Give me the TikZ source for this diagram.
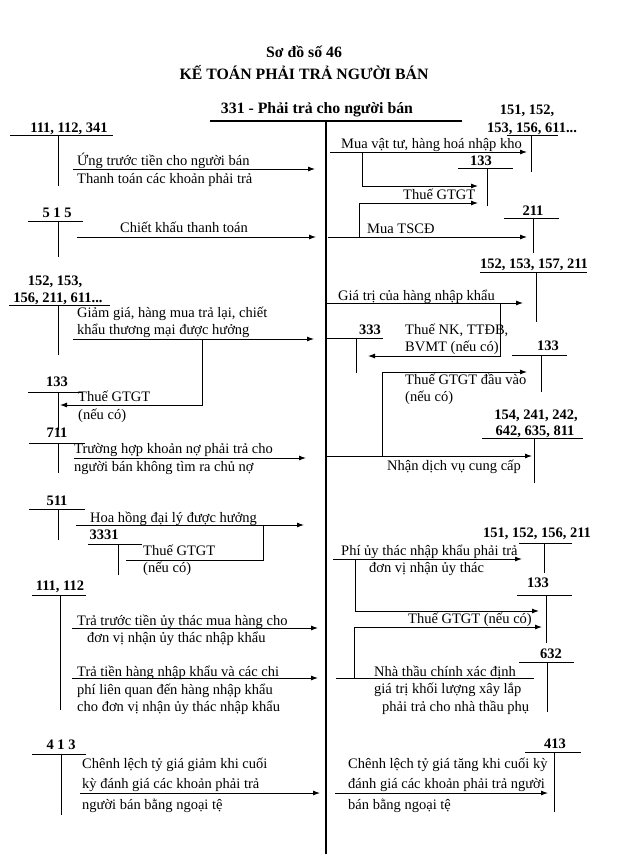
\documentclass[tikz,border=0pt]{standalone}
\usepackage{fontspec}
\setmainfont{Liberation Serif}
\usetikzlibrary{arrows.meta}
\newcommand\Tacc[6]{%
  \coordinate (#1L) at (#2,#4); \coordinate (#1R) at (#3,#4);
  \coordinate (#1T) at (#5,#4); \coordinate (#1B) at (#5,#6);
  \draw[tline] (#1L) -- (#1R); \draw[tline] (#1T) -- (#1B);}
\begin{document}
\begin{tikzpicture}[x=1pt,y=-1pt,
  tline/.style={line width=0.9pt},
  mainline/.style={line width=1.6pt},
  arr/.style={line width=0.9pt,-{Latex[length=7pt,width=5pt]}},
  plain/.style={line width=0.9pt},
  lab/.style={font=\fontsize{14.5}{17}\selectfont\bfseries, anchor=base, inner sep=0pt},
  txt/.style={font=\fontsize{14.5}{17}\selectfont, anchor=base west, inner sep=0pt},
  ttl/.style={font=\fontsize{15.8}{18}\selectfont\bfseries, anchor=base, inner sep=0pt}]
\useasboundingbox[fill=white] (0,0) rectangle (623,862);

% title
\node[ttl] (t1) at (304,57) {Sơ đồ số 46};
\node[ttl] (t2) at (304,79) {KẾ TOÁN PHẢI TRẢ NGƯỜI BÁN};
\node[ttl] (t3) at (317,113) {331 - Phải trả cho người bán};
\coordinate (mL) at (210,121); \coordinate (mR) at (462,121);
\coordinate (mT) at (326,121); \coordinate (mB) at (326,854);
\draw[mainline] (mL) -- (mR); \draw[mainline] (mT) -- (mB);

% ---------- left side ----------
\Tacc{a}{10}{113}{135}{58}{186}
\node[lab] (la) at (69,132) {111, 112, 341};
\coordinate (a1s) at (73,169); \coordinate (a1e) at (315,169);
\draw[arr] (a1s) -- (a1e);
\node[txt] (ta1) at (77,165) {Ứng trước tiền cho người bán};
\node[txt] (ta2) at (77,183) {Thanh toán các khoản phải trả};

\Tacc{b}{28}{83}{221}{58}{257}
\node[lab] (lb) at (57,217) {5 1 5};
\coordinate (b1s) at (77,237); \coordinate (b1e) at (316,237);
\draw[arr] (b1s) -- (b1e);
\node[txt] (tb1) at (120,232) {Chiết khấu thanh toán};

\Tacc{c}{9}{110}{305}{58}{355}
\node[lab] (lc1) at (55,285) {152, 153,};
\node[lab] (lc2) at (58,302) {156, 211, 611...};
\node[txt] (tc1) at (77,317) {Giảm giá, hàng mua trả lại, chiết};
\node[txt] (tc2) at (77,334) {khẩu thương mại được hưởng};
\coordinate (c1s) at (73,339); \coordinate (c1e) at (314,339);
\draw[arr] (c1s) -- (c1e);
\coordinate (c2s) at (202,339); \coordinate (c2m) at (202,405); \coordinate (c2e) at (60,405);
\draw[arr] (c2s) -- (c2m) -- (c2e);

\Tacc{d}{28}{83}{392}{58}{430}
\node[lab] (ld) at (57,386) {133};
\node[txt] (td1) at (78,401) {Thuế GTGT};
\node[txt] (td2) at (78,419) {(nếu có)};

\Tacc{e}{29}{85}{443}{58}{473}
\node[lab] (le) at (57,437) {711};
\node[txt] (te1) at (74,453) {Trường hợp khoản nợ phải trả cho};
\node[txt] (te2) at (74,471) {người bán không tìm ra chủ nợ};
\coordinate (e1s) at (74,458); \coordinate (e1e) at (306,458);
\draw[arr] (e1s) -- (e1e);

\Tacc{f}{29}{85}{509}{58}{540}
\node[lab] (lf) at (57,505) {511};
\node[txt] (tf1) at (90,522) {Hoa hồng đại lý được hưởng};
\coordinate (f1s) at (76,525); \coordinate (f1e) at (304,525);
\draw[arr] (f1s) -- (f1e);
\coordinate (f2s) at (126,560); \coordinate (f2m) at (263,560); \coordinate (f2e) at (263,525);
\draw[plain] (f2s) -- (f2m) -- (f2e);

\Tacc{g}{88}{142}{544}{118}{575}
\node[lab] (lg) at (104,539) {3331};
\node[txt] (tg1) at (143,555) {Thuế GTGT};
\node[txt] (tg2) at (143,572) {(nếu có)};

\Tacc{h}{32}{86}{595}{60}{710}
\node[lab] (lh) at (60,590) {111, 112};
\node[txt] (th1) at (77,625) {Trả trước tiền ủy thác mua hàng cho};
\node[txt] (th2) at (87,642) {đơn vị nhận ủy thác nhập khẩu};
\coordinate (h1s) at (72,628); \coordinate (h1e) at (318,628);
\draw[arr] (h1s) -- (h1e);
\node[txt] (th3) at (77,676) {Trả tiền hàng nhập khẩu và các chi};
\node[txt] (th4) at (77,694) {phí liên quan đến hàng nhập khẩu};
\node[txt] (th5) at (77,711) {cho đơn vị nhận ủy thác nhập khẩu};
\coordinate (h2s) at (72,678); \coordinate (h2e) at (318,678);
\draw[arr] (h2s) -- (h2e);

\Tacc{i}{32}{86}{754}{61}{815}
\node[lab] (li) at (61,749) {4 1 3};
\node[txt] (ti1) at (82,768) {Chênh lệch tỷ giá giảm khi cuối};
\node[txt] (ti2) at (82,788) {kỳ đánh giá các khoản phải trả};
\node[txt] (ti3) at (82,809) {người bán bằng ngoại tệ};
\coordinate (i1s) at (80,793); \coordinate (i1e) at (320,793);
\draw[arr] (i1s) -- (i1e);

% ---------- right side ----------
\Tacc{j}{507}{558}{135}{531}{172}
\node[lab] (lj1) at (527,114) {151, 152,};
\node[lab] (lj2) at (532,132) {153, 156, 611...};
\node[txt] (tj1) at (341,148) {Mua vật tư, hàng hoá nhập kho};
\coordinate (j1s) at (330,152); \coordinate (j1e) at (527,152);
\draw[arr] (j1s) -- (j1e);
\coordinate (j2s) at (362,152); \coordinate (j2m) at (362,186); \coordinate (j2e) at (478,186);
\draw[arr] (j2s) -- (j2m) -- (j2e);

\Tacc{k}{458}{513}{168}{487}{206}
\node[lab] (lk) at (481,165) {133};
\node[txt] (tk1) at (403,199) {Thuế GTGT};
\coordinate (k2s) at (359,237); \coordinate (k2m) at (359,203); \coordinate (k2e) at (478,203);
\draw[arr] (k2s) -- (k2m) -- (k2e);
\coordinate (k1s) at (328,237); \coordinate (k1e) at (527,237);
\draw[arr] (k1s) -- (k1e);
\node[txt] (tk2) at (367,233) {Mua TSCĐ};

\Tacc{l}{504}{559}{218}{533}{253}
\node[lab] (ll) at (533,215) {211};

\Tacc{m}{480}{587}{272}{536}{322}
\node[lab] (lm) at (534,268) {152, 153, 157, 211};
\node[txt] (tm1) at (338,300) {Giá trị của hàng nhập khẩu};
\coordinate (m1s) at (327,303); \coordinate (m1e) at (523,303);
\draw[arr] (m1s) -- (m1e);
\coordinate (m2s) at (500,303); \coordinate (m2m) at (500,356); \coordinate (m2e) at (368,356);
\draw[arr] (m2s) -- (m2m) -- (m2e);

\Tacc{n}{327}{383}{338}{356}{373}
\node[lab] (ln) at (370,334) {333};
\node[txt] (tn1) at (405,334) {Thuế NK, TTĐB,};
\node[txt] (tn2) at (405,351) {BVMT (nếu có)};

\Tacc{o}{512}{567}{355}{541}{392}
\node[lab] (lo) at (548,350) {133};
\coordinate (o2s) at (382,456); \coordinate (o2m) at (382,372); \coordinate (o2e) at (527,372);
\draw[arr] (o2s) -- (o2m) -- (o2e);
\node[txt] (to1) at (405,384) {Thuế GTGT đầu vào};
\node[txt] (to2) at (405,401) {(nếu có)};

\Tacc{p}{482}{583}{438}{534}{483}
\node[lab] (lp1) at (536,419) {154, 241, 242,};
\node[lab] (lp2) at (535,435) {642, 635, 811};
\coordinate (p1s) at (327,456); \coordinate (p1e) at (532,456);
\draw[arr] (p1s) -- (p1e);
\node[txt] (tp1) at (387,470) {Nhận dịch vụ cung cấp};

\Tacc{q}{519}{572}{543}{544}{573}
\node[lab] (lq) at (537,537) {151, 152, 156, 211};
\node[txt] (tq1) at (341,555) {Phí ủy thác nhập khẩu phải trả};
\node[txt] (tq2) at (369,572) {đơn vị nhận ủy thác};
\coordinate (q1s) at (333,559); \coordinate (q1e) at (522,559);
\draw[arr] (q1s) -- (q1e);
\coordinate (q2s) at (355,559); \coordinate (q2m) at (355,611); \coordinate (q2e) at (539,611);
\draw[arr] (q2s) -- (q2m) -- (q2e);

\Tacc{r}{517}{572}{595}{546}{643}
\node[lab] (lr) at (538,587) {133};
\node[txt] (tr1) at (408,623) {Thuế GTGT (nếu có)};
\coordinate (r2s) at (354,678); \coordinate (r2m) at (354,627); \coordinate (r2e) at (542,627);
\draw[arr] (r2s) -- (r2m) -- (r2e);

\Tacc{s}{519}{574}{662}{547}{712}
\node[lab] (ls) at (551,658) {632};
\coordinate (s1s) at (336,678); \coordinate (s1e) at (534,678);
\draw[plain] (s1s) -- (s1e);
\node[txt] (ts1) at (374,676) {Nhà thầu chính xác định};
\node[txt] (ts2) at (374,693) {giá trị khối lượng xây lắp};
\node[txt] (ts3) at (382,711) {phải trả cho nhà thầu phụ};

\Tacc{u}{525}{581}{752}{554}{812}
\node[lab] (lu) at (555,748) {413};
\node[txt] (tu1) at (348,768) {Chênh lệch tỷ giá tăng khi cuối kỳ};
\node[txt] (tu2) at (348,788) {đánh giá các khoản phải trả người};
\node[txt] (tu3) at (348,809) {bán bằng ngoại tệ};
\coordinate (u1s) at (335,793); \coordinate (u1e) at (548,793);
\draw[arr] (u1s) -- (u1e);
\end{tikzpicture}
\end{document}
